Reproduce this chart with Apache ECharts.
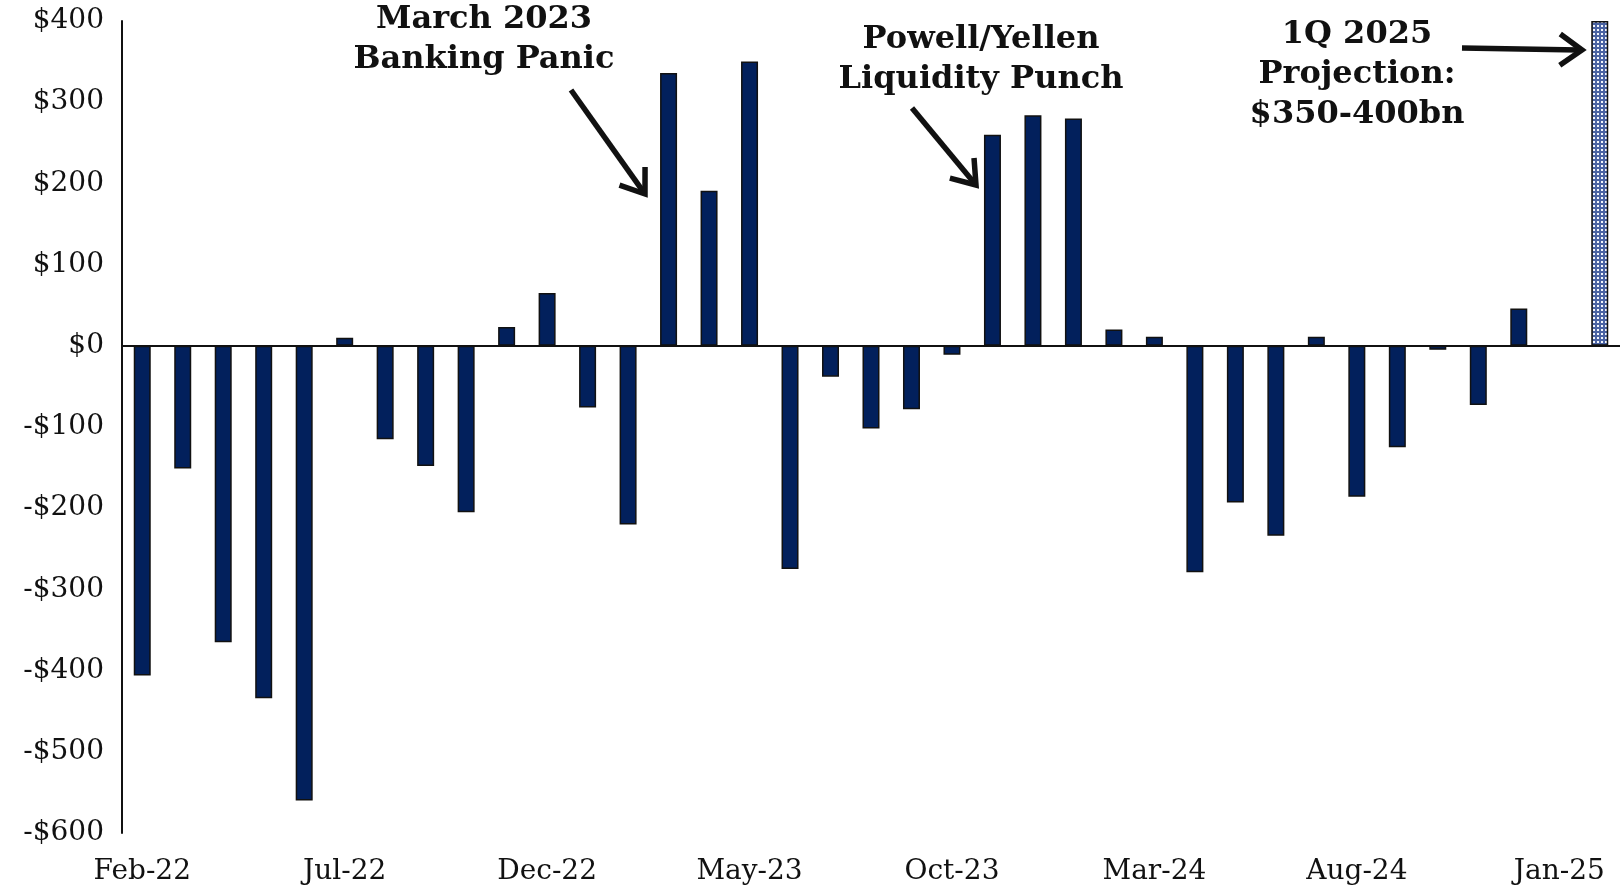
<!DOCTYPE html>
<html>
<head>
<meta charset="utf-8">
<script src="https://cdn.jsdelivr.net/npm/echarts@6/dist/echarts.min.js"></script>
<style>
  html, body { margin: 0; padding: 0; background: #fff; }
  #chart { width: 1620px; height: 891px; }
</style>
</head>
<body>
<div id="chart"></div>
<script>
const months = [
  "Feb-22", "Mar-22", "Apr-22", "May-22", "Jun-22", "Jul-22", "Aug-22", "Sep-22", "Oct-22", "Nov-22", "Dec-22",
  "Jan-23", "Feb-23", "Mar-23", "Apr-23", "May-23", "Jun-23", "Jul-23", "Aug-23", "Sep-23", "Oct-23", "Nov-23", "Dec-23",
  "Jan-24", "Feb-24", "Mar-24", "Apr-24", "May-24", "Jun-24", "Jul-24", "Aug-24", "Sep-24", "Oct-24", "Nov-24", "Dec-24",
  "Jan-25", "1Q 2025"
];
// monthly liquidity change, $bn
const flows = [
  -406, -151, -365, -434, -560, 10, -115, -148, -205, 23, 65,
  -76, -220, 336, 191, 350, -275, -38, -102, -78, -11, 260, 284,
  280, 20, 11, -279, -193, -234, 11, -186, -125, -5, -73, 46,
  null, null
];
const projection = [
  null, null, null, null, null, null, null, null, null, null, null,
  null, null, null, null, null, null, null, null, null, null, null, null,
  null, null, null, null, null, null, null, null, null, null, null, null,
  null, 400
];
const yTicks = { min: -600, max: 400, step: 100 };

const serif = "'DejaVu Serif', 'Liberation Serif', serif";
const navy = "#02205c";

// dotted fill for the projection bar
const pat = document.createElement("canvas");
pat.width = 4; pat.height = 4;
const pctx = pat.getContext("2d");
pctx.fillStyle = "#4a63a3";
pctx.fillRect(0, 0, 4, 4);
pctx.fillStyle = "#f2f5fc";
pctx.fillRect(1, 1, 2, 2);

let myChart = echarts.init(document.getElementById("chart"));

function arrow(x1, y1, x2, y2) {
  const a = Math.atan2(y2 - y1, x2 - x1);
  const len = 27, spread = 0.62;
  const p1 = [x2 - len * Math.cos(a - spread), y2 - len * Math.sin(a - spread)];
  const p2 = [x2 - len * Math.cos(a + spread), y2 - len * Math.sin(a + spread)];
  const st = { stroke: "#111", lineWidth: 5.5, lineCap: "butt", lineJoin: "miter", fill: null };
  return [
    { type: "line", shape: { x1: x1, y1: y1, x2: x2 - 3 * Math.cos(a), y2: y2 - 3 * Math.sin(a) }, style: st },
    { type: "polyline", shape: { points: [p1, [x2, y2], p2] }, style: st }
  ];
}

function note(text, x, y) {
  return {
    type: "text",
    x: x, y: y,
    style: {
      text: text,
      font: "bold 32px " + serif,
      fill: "#111",
      align: "center",
      verticalAlign: "top",
      lineHeight: 40
    }
  };
}

const option = {
  animation: false,
  backgroundColor: "#fff",
  grid: { left: 122, right: 0, top: 21, bottom: 58 },
  xAxis: [
    {
      type: "category",
      data: months,
      axisLine: { onZero: true, lineStyle: { color: "#111", width: 2 } },
      axisTick: { show: false },
      axisLabel: { show: false }
    },
    {
      type: "category",
      data: months,
      position: "bottom",
      axisLine: { show: false },
      axisTick: { show: false },
      axisLabel: {
        interval: 4,
        margin: 25,
        fontFamily: serif,
        fontSize: 28,
        color: "#111"
      }
    }
  ],
  yAxis: {
    type: "value",
    min: yTicks.min,
    max: yTicks.max,
    interval: yTicks.step,
    splitLine: { show: false },
    axisLine: { show: true, lineStyle: { color: "#111", width: 2 } },
    axisTick: { show: false },
    axisLabel: {
      margin: 18,
      fontFamily: serif,
      fontSize: 28,
      color: "#111",
      formatter: (v) => (v < 0 ? "-$" + Math.abs(v) : "$" + v)
    }
  },
  series: [
    {
      type: "bar",
      data: flows,
      barWidth: 17,
      barGap: "-100%",
      itemStyle: { color: navy, borderColor: "#111", borderWidth: 1.5 }
    },
    {
      type: "bar",
      data: projection,
      barWidth: 17,
      barGap: "-100%",
      itemStyle: {
        color: { image: pat, repeat: "repeat" },
        borderColor: "#111",
        borderWidth: 1.5
      }
    }
  ],
  graphic: [
    note("March 2023\nBanking Panic", 484, 0),
    note("Powell/Yellen\nLiquidity Punch", 981, 20),
    note("1Q 2025\nProjection:\n$350-400bn", 1357, 15),
    ...arrow(571, 90, 645, 194),
    ...arrow(912, 108, 976, 185),
    ...arrow(1462, 48, 1582, 50)
  ]
};
myChart.setOption(option);
</script>
</body>
</html>
